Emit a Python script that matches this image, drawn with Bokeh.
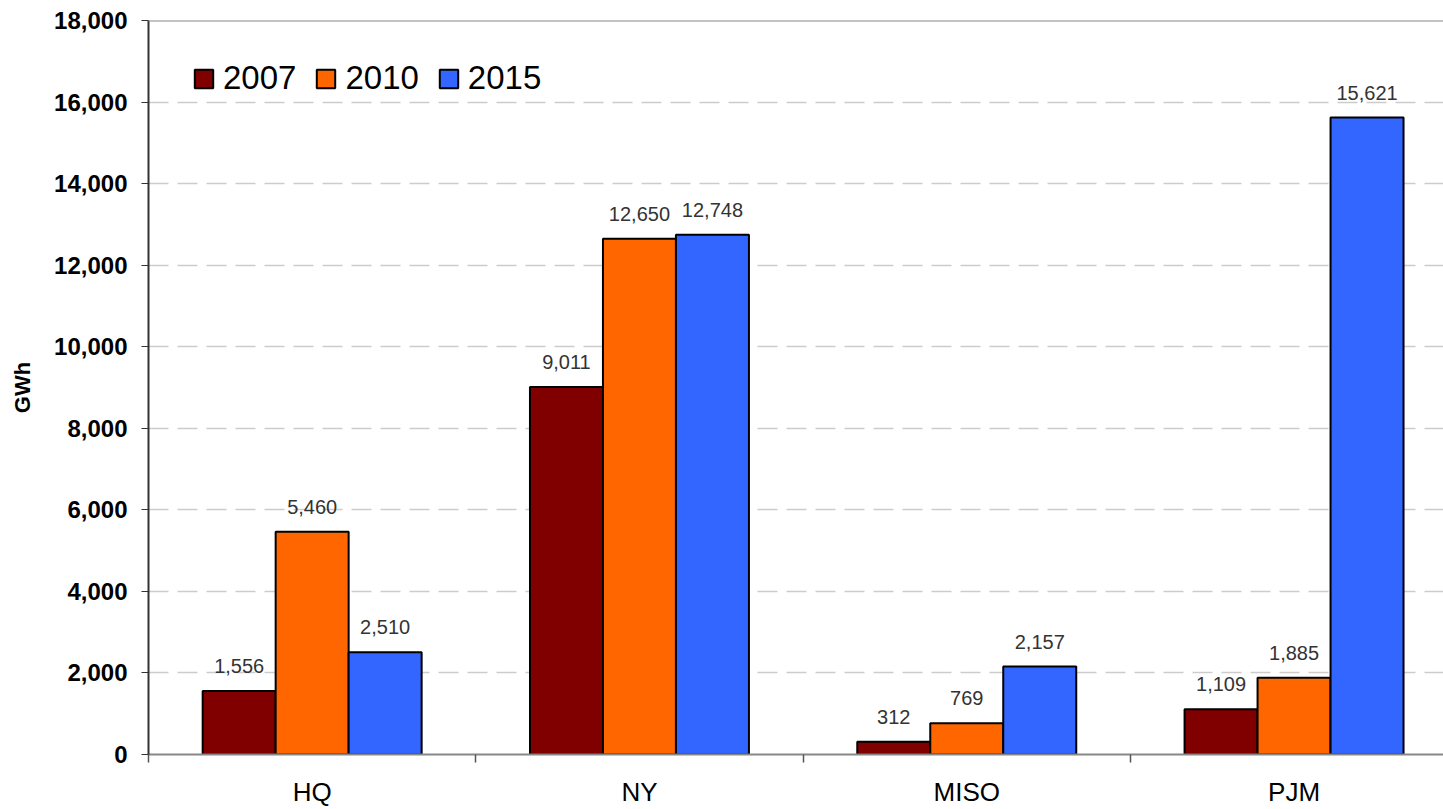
from bokeh.plotting import figure
from bokeh.models import (FixedTicker, NumeralTickFormatter, Legend, LegendItem, Span,
                          ColumnDataSource, Range1d)
from bokeh.core.properties import value
from bokeh.embed import file_html
from bokeh.resources import INLINE

regions = ["HQ", "NY", "MISO", "PJM"]
years = ["2007", "2010", "2015"]
v2007 = [1556, 9011, 312, 1109]
v2010 = [5460, 12650, 769, 1885]
v2015 = [2510, 12748, 2157, 15621]
colors = ["#800000", "#FF6600", "#3366FF"]
y_ticks = [0, 2000, 4000, 6000, 8000, 10000, 12000, 14000, 16000, 18000]

FONT = "Liberation Sans"
centers = [i + 0.5 for i in range(len(regions))]
bw = 0.223
offsets = [-bw, 0.0, bw]

p = figure(width=1443, height=809, x_range=Range1d(0, 3.9566), y_range=Range1d(0, 18000),
           output_backend="svg", toolbar_location=None,
           min_border_left=148, min_border_right=0, min_border_top=20, min_border_bottom=55)
p.background_fill_color = "white"
p.border_fill_color = "white"
p.outline_line_color = None

renderers = []
for vals, col, off in zip([v2007, v2010, v2015], colors, offsets):
    src = ColumnDataSource(dict(x=[c + off for c in centers], top=vals,
                                lab=[f"{v:,}" for v in vals]))
    r = p.vbar(x="x", top="top", bottom=0, width=bw, source=src, fill_color=col,
               line_color="black", line_width=2)
    renderers.append(r)
    p.text(x="x", y="top", text="lab", source=src, text_align="center",
           text_baseline="alphabetic", y_offset=-25, text_font=value(FONT),
           text_font_size="20px", text_color="#333333")

# top border
p.add_layout(Span(location=18000, dimension="width", line_color="#888888", line_width=2))

# y axis
ya = p.yaxis[0]
ya.ticker = FixedTicker(ticks=y_ticks)
ya.formatter = NumeralTickFormatter(format="0,0")
ya.major_label_text_font = FONT
ya.major_label_text_font_size = "24px"
ya.major_label_text_font_style = "bold"
ya.major_label_text_color = "black"
ya.major_label_standoff = 14
ya.major_tick_out = 7
ya.major_tick_in = 0
ya.minor_tick_out = 0
ya.minor_tick_in = 0
ya.major_tick_line_color = "#333333"
ya.axis_line_color = "#333333"
ya.axis_line_width = 2
ya.axis_label = "GWh"
ya.axis_label_text_font = FONT
ya.axis_label_text_font_size = "22px"
ya.axis_label_text_font_style = "bold"
ya.axis_label_text_color = "black"
ya.axis_label_standoff = 16

# x axis: labels at category centres, ticks at category boundaries
xa = p.xaxis[0]
xa.ticker = FixedTicker(ticks=centers, minor_ticks=[0, 1, 2, 3, 4])
xa.major_label_overrides = {c: name for c, name in zip(centers, regions)}
xa.major_label_text_font = FONT
xa.major_label_text_font_size = "26px"
xa.major_label_text_color = "black"
xa.major_label_standoff = 14
xa.major_tick_out = 0
xa.major_tick_in = 0
xa.minor_tick_out = 8
xa.minor_tick_in = 0
xa.minor_tick_line_color = "#555555"
xa.minor_tick_line_width = 1.5
xa.axis_line_color = "#888888"
xa.axis_line_width = 2

p.xgrid.visible = False
p.ygrid.ticker = FixedTicker(ticks=y_ticks[1:-1])
p.ygrid.grid_line_color = "#cccccc"
p.ygrid.grid_line_width = 1.5
p.ygrid.grid_line_dash = "20 9"

legend = Legend(items=[LegendItem(label=y, renderers=[r]) for y, r in zip(years, renderers)],
                orientation="horizontal", location=(44, 657), glyph_width=23,
                glyph_height=23, label_text_font=FONT, label_text_font_size="33px",
                label_standoff=8, spacing=18, padding=0, margin=0, border_line_alpha=0,
                background_fill_alpha=0, label_text_color="black")
p.add_layout(legend)

open("out.html", "w").write(file_html(p, INLINE))
